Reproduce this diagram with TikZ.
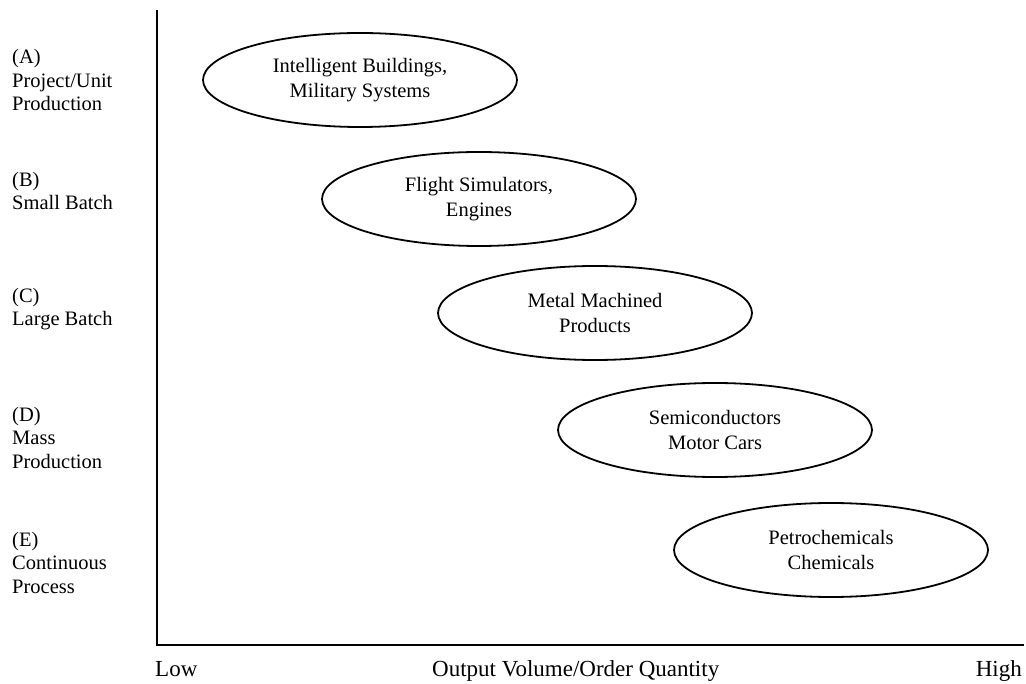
\documentclass[tikz,border=0pt]{standalone}
\usepackage{fontspec}
\setmainfont{Liberation Serif}
\usetikzlibrary{shapes.geometric}
\begin{document}
\begin{tikzpicture}[x=1pt,y=-1pt,
  every node/.style={inner sep=0pt},
  % multi-line labels are placed by the baseline of their last line
  cat/.style={anchor=base west, align=left, font=\fontsize{20.5}{23.5}\selectfont},
  group/.style={draw, line width=1.8pt, ellipse, minimum width=314pt,
    minimum height=94pt, align=center, font=\fontsize{20.5}{25}\selectfont},
  axislabel/.style={font=\fontsize{23}{26}\selectfont},
  axis/.style={line width=2pt}]
\useasboundingbox (0,0) rectangle (1026,684);

% axes
\coordinate (top) at (157,10);
\coordinate (origin) at (157,645);
\coordinate (right) at (1024,645);
\draw[axis] (top) -- (origin) -- (right);

% production categories
\node[cat] (catA) at (12,111) {(A)\\Project/Unit\\Production};
\node[cat] (catB) at (12,210) {(B)\\Small Batch};
\node[cat] (catC) at (12,326) {(C)\\Large Batch};
\node[cat] (catD) at (12,468) {(D)\\Mass\\Production};
\node[cat] (catE) at (12,593) {(E)\\Continuous\\Process};

% product groups
\node[group] (grpA) at (360,80)  {Intelligent Buildings,\\Military Systems};
\node[group] (grpB) at (479,199) {Flight Simulators,\\Engines};
\node[group] (grpC) at (595,313) {Metal Machined\\Products};
\node[group] (grpD) at (715,430) {Semiconductors\\Motor Cars};
\node[group] (grpE) at (831,550) {Petrochemicals\\Chemicals};

% horizontal axis labels
\node[axislabel, anchor=base west] (low) at (155,676) {Low};
\node[axislabel, anchor=base west] (mid) at (432,676) {Output Volume/Order Quantity};
\node[axislabel, anchor=base east] (high) at (1022,676) {High};
\end{tikzpicture}
\end{document}
